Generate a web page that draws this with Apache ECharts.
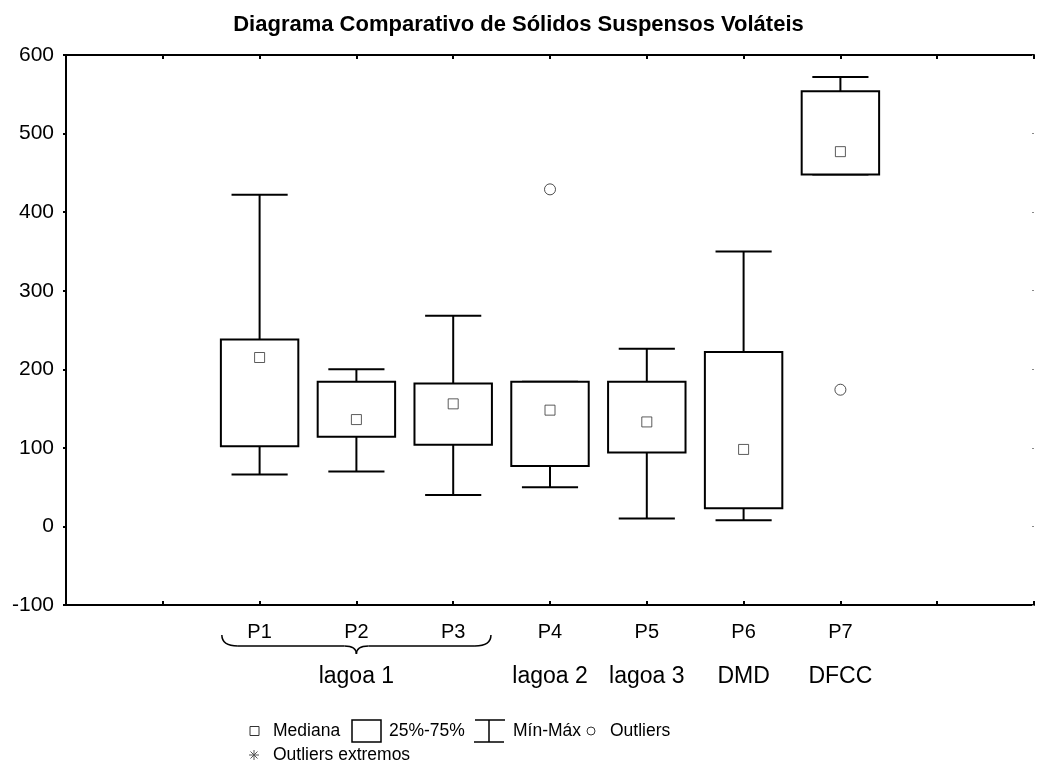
<!DOCTYPE html>
<html>
<head>
<meta charset="utf-8">
<script src="https://cdn.jsdelivr.net/npm/echarts@6/dist/echarts.min.js"></script>
<style>
html,body{margin:0;padding:0;background:#fff;}
#chart{width:1037px;height:767px;}
</style>
</head>
<body>
<div id="chart"></div>
<script>
// ---- data ----
const categories = ['P1', 'P2', 'P3', 'P4', 'P5', 'P6', 'P7'];
const groupLabels = ['', 'lagoa 1', '', 'lagoa 2', 'lagoa 3', 'DMD', 'DFCC'];
const minValues    = [66, 70, 40, 50, 10, 8, 448];
const q1Values     = [102, 114, 104, 77, 94, 23, 448];
const medianValues = [215, 136, 156, 148, 133, 98, 477];
const q3Values     = [238, 184, 182, 184, 184, 222, 554];
const maxValues    = [422, 200, 268, 184, 226, 350, 572];
const outlierCategories = ['P4', 'P7'];
const outlierValues = [429, 174];
const yTicks = [-100, 0, 100, 200, 300, 400, 500, 600];
const titleText = 'Diagrama Comparativo de Sólidos Suspensos Voláteis';
const legendLabels = ['Mediana', '25%-75%', 'Mín-Máx', 'Outliers', 'Outliers extremos'];

// category i sits at x = i + 2 on a 0..10 axis
const xOf = (cat) => categories.indexOf(cat) + 2;

const FONT = 'Liberation Sans, Arial, sans-serif';
const chart = echarts.init(document.getElementById('chart'), null, {renderer: 'canvas'});

const boxData = categories.map((c, i) => [xOf(c), minValues[i], q1Values[i], medianValues[i], q3Values[i], maxValues[i]]);
const medianData = categories.map((c, i) => [xOf(c), medianValues[i]]);
const outlierData = outlierCategories.map((c, i) => [xOf(c), outlierValues[i]]);

function renderBox(params, api) {
  const x = api.value(0);
  const pMin = api.coord([x, api.value(1)]);
  const pQ1 = api.coord([x, api.value(2)]);
  const pQ3 = api.coord([x, api.value(4)]);
  const pMax = api.coord([x, api.value(5)]);
  const boxW = api.size([0.8, 0])[0];
  const capW = api.size([0.58, 0])[0];
  const cx = pQ1[0];
  const style = {stroke: '#000', lineWidth: 2, fill: null};
  return {
    type: 'group',
    children: [
      {type: 'line', shape: {x1: cx, y1: pQ3[1], x2: cx, y2: pMax[1]}, style: style},
      {type: 'line', shape: {x1: cx, y1: pQ1[1], x2: cx, y2: pMin[1]}, style: style},
      {type: 'line', shape: {x1: cx - capW / 2, y1: pMax[1], x2: cx + capW / 2, y2: pMax[1]}, style: style},
      {type: 'line', shape: {x1: cx - capW / 2, y1: pMin[1], x2: cx + capW / 2, y2: pMin[1]}, style: style},
      {type: 'rect', shape: {x: cx - boxW / 2, y: pQ3[1], width: boxW, height: pQ1[1] - pQ3[1]},
       style: {stroke: '#000', lineWidth: 2, fill: '#fff'}}
    ]
  };
}

const option = {
  animation: false,
  backgroundColor: '#fff',
  title: {
    text: titleText, left: 'center', top: 9,
    textStyle: {fontFamily: FONT, fontSize: 22, fontWeight: 'bold', color: '#000'}
  },
  grid: {left: 66, right: 0, top: 55, bottom: 162},
  xAxis: [{
    type: 'value', min: 0, max: 10, interval: 1, position: 'bottom',
    axisLine: {show: true, onZero: false, lineStyle: {color: '#000', width: 2}},
    axisTick: {show: true, inside: true, length: 4, lineStyle: {color: '#000', width: 2}},
    splitLine: {show: false},
    axisLabel: {
      margin: 8,
      formatter: (v) => {
        const i = Math.round(v) - 2;
        if (i < 0 || i >= categories.length) return '';
        return '{p|' + categories[i] + '}\n{g|' + (groupLabels[i] || ' ') + '}';
      },
      rich: {
        p: {fontFamily: FONT, fontSize: 20, color: '#000', lineHeight: 38},
        g: {fontFamily: FONT, fontSize: 23, color: '#000', lineHeight: 52}
      }
    }
  }, {
    type: 'value', min: 0, max: 10, interval: 1, position: 'top',
    axisLine: {show: true, onZero: false, lineStyle: {color: '#000', width: 2}},
    axisTick: {show: true, inside: true, length: 4, lineStyle: {color: '#000', width: 2}},
    splitLine: {show: false}, axisLabel: {show: false}
  }],
  yAxis: [{
    type: 'value', min: yTicks[0], max: yTicks[yTicks.length - 1], interval: 100,
    axisLine: {show: true, onZero: false, lineStyle: {color: '#000', width: 2}},
    axisTick: {show: true, inside: false, length: 3, lineStyle: {color: '#000', width: 2}},
    splitLine: {show: false},
    axisLabel: {margin: 12, fontFamily: FONT, fontSize: 21, color: '#000'}
  }, {
    type: 'value', min: yTicks[0], max: yTicks[yTicks.length - 1], interval: 100, position: 'right',
    axisLine: {show: false, onZero: false},
    axisTick: {show: true, inside: true, length: 2, lineStyle: {color: '#888', width: 1}},
    splitLine: {show: false}, axisLabel: {show: false}
  }],
  series: [{
    type: 'custom', renderItem: renderBox, data: boxData,
    encode: {x: 0, y: [1, 2, 3, 4, 5]}, z: 2
  }, {
    type: 'scatter', data: medianData, symbol: 'rect', symbolSize: 10,
    itemStyle: {color: '#fff', borderColor: '#333', borderWidth: 1}, z: 5
  }, {
    type: 'scatter', data: outlierData, symbol: 'circle', symbolSize: 11,
    itemStyle: {color: '#fff', borderColor: '#222', borderWidth: 1}, z: 5
  }]
};
chart.setOption(option);

// brace under P1..P3 and legend drawn after layout
const y0 = chart.convertToPixel({yAxisIndex: 0}, yTicks[0]);
const bx0 = chart.convertToPixel({xAxisIndex: 0}, xOf('P1') - 0.39);
const bx1 = chart.convertToPixel({xAxisIndex: 0}, xOf('P3') + 0.39);
const bm = chart.convertToPixel({xAxisIndex: 0}, xOf('P2'));
const yt = y0 + 30, yh = y0 + 41, yc = y0 + 49;
const bst = {stroke: '#000', lineWidth: 1.5, fill: null};
const brace = [
  {type: 'bezierCurve', shape: {x1: bx0, y1: yt, cpx1: bx0, cpy1: yh, x2: bx0 + 16, y2: yh}, style: bst},
  {type: 'line', shape: {x1: bx0 + 16, y1: yh, x2: bm - 12, y2: yh}, style: bst},
  {type: 'bezierCurve', shape: {x1: bm - 12, y1: yh, cpx1: bm, cpy1: yh, x2: bm, y2: yc}, style: bst},
  {type: 'bezierCurve', shape: {x1: bm, y1: yc, cpx1: bm, cpy1: yh, x2: bm + 12, y2: yh}, style: bst},
  {type: 'line', shape: {x1: bm + 12, y1: yh, x2: bx1 - 16, y2: yh}, style: bst},
  {type: 'bezierCurve', shape: {x1: bx1 - 16, y1: yh, cpx1: bx1, cpy1: yh, x2: bx1, y2: yt}, style: bst}
];

const txt = (x, y, s) => ({type: 'text', x: x, y: y,
  style: {text: s, fontFamily: FONT, fontSize: 17.5, fill: '#000', verticalAlign: 'middle', align: 'left'}});
const ly1 = 731, ly2 = 755;
const lst = {stroke: '#000', lineWidth: 1.5};
const ast = {stroke: '#555', lineWidth: 1};
chart.setOption({
  graphic: brace.concat([
    {type: 'rect', shape: {x: 250, y: ly1 - 4.5, width: 9, height: 9}, style: {stroke: '#333', lineWidth: 1, fill: '#fff'}},
    txt(273, ly1, legendLabels[0]),
    {type: 'rect', shape: {x: 352, y: ly1 - 11, width: 29, height: 22}, style: {stroke: '#000', lineWidth: 1.5, fill: '#fff'}},
    txt(389, ly1, legendLabels[1]),
    {type: 'line', shape: {x1: 475, y1: ly1 - 11, x2: 505, y2: ly1 - 11}, style: lst},
    {type: 'line', shape: {x1: 489, y1: ly1 - 11, x2: 489, y2: ly1 + 11}, style: lst},
    {type: 'line', shape: {x1: 474, y1: ly1 + 11, x2: 504, y2: ly1 + 11}, style: lst},
    txt(513, ly1, legendLabels[2]),
    {type: 'circle', shape: {cx: 591, cy: ly1, r: 4}, style: {stroke: '#333', lineWidth: 1, fill: '#fff'}},
    txt(610, ly1, legendLabels[3]),
    {type: 'line', shape: {x1: 249, y1: ly2, x2: 259, y2: ly2}, style: ast},
    {type: 'line', shape: {x1: 254, y1: ly2 - 5, x2: 254, y2: ly2 + 5}, style: ast},
    {type: 'line', shape: {x1: 250.5, y1: ly2 - 3.5, x2: 257.5, y2: ly2 + 3.5}, style: ast},
    {type: 'line', shape: {x1: 257.5, y1: ly2 - 3.5, x2: 250.5, y2: ly2 + 3.5}, style: ast},
    txt(273, ly2, legendLabels[4])
  ])
});
</script>
</body>
</html>
